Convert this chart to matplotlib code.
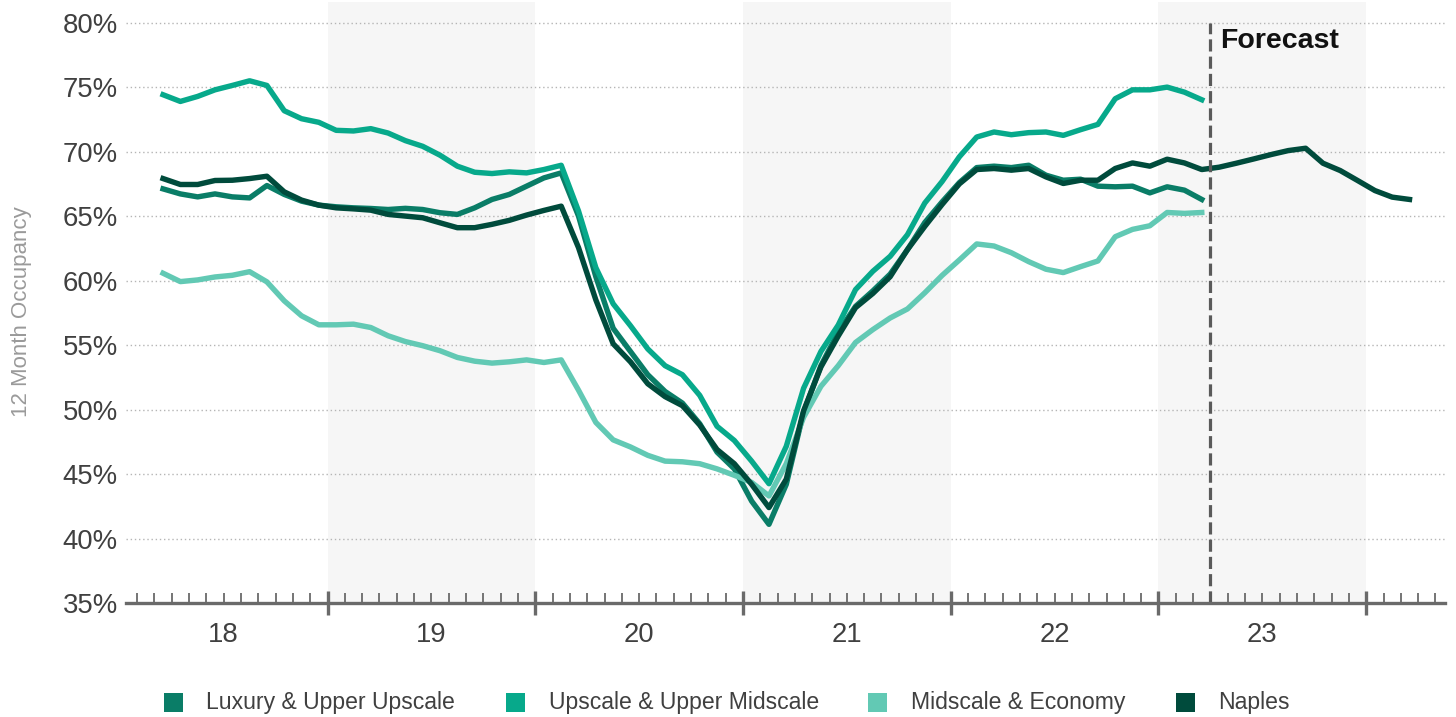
import matplotlib

matplotlib.use("Agg")

import matplotlib.pyplot as plt
from matplotlib.patches import Rectangle

plt.rcParams["font.family"] = ["Liberation Sans", "DejaVu Sans"]

# Meses contados desde enero 2018 (0 = ene-18); cada punto va al centro del mes.
MONTHS_HIST = list(range(2, 63))      # mar-18 .. mar-23
MONTHS_NAPLES = list(range(2, 75))    # mar-18 .. mar-24 (incluye pronostico)

luxury = [
    67.11, 66.72, 66.49, 66.72, 66.49, 66.41, 67.37, 66.68, 66.16, 65.85,
    65.72, 65.64, 65.59, 65.51, 65.60, 65.51, 65.26, 65.13, 65.64, 66.29,
    66.68, 67.32, 67.96, 68.35, 65.00, 60.30, 56.30, 54.50, 52.70, 51.40,
    50.50, 48.90, 46.70, 45.40, 42.90, 41.10, 44.20, 49.80, 53.40, 56.00,
    58.00, 59.20, 60.50, 62.40, 64.50, 66.10, 67.60, 68.76, 68.87, 68.76,
    68.94, 68.17, 67.78, 67.86, 67.32, 67.27, 67.32, 66.80, 67.27, 67.01,
    66.29,
]
upscale = [
    74.41, 73.89, 74.28, 74.79, 75.13, 75.49, 75.13, 73.17, 72.55, 72.27,
    71.65, 71.60, 71.78, 71.44, 70.85, 70.41, 69.72, 68.87, 68.40, 68.30,
    68.43, 68.35, 68.61, 68.94, 65.39, 61.00, 58.20, 56.50, 54.70, 53.40,
    52.70, 51.10, 48.70, 47.60, 46.00, 44.25, 47.15, 51.65, 54.50, 56.55,
    59.30, 60.72, 61.88, 63.56, 66.01, 67.68, 69.60, 71.13, 71.52, 71.31,
    71.47, 71.52, 71.26, 71.70, 72.11, 74.10, 74.79, 74.79, 75.00, 74.61,
    74.02,
]
midscale = [
    60.57, 59.92, 60.05, 60.28, 60.41, 60.69, 59.90, 58.43, 57.27, 56.57,
    56.57, 56.62, 56.36, 55.72, 55.27, 54.95, 54.56, 54.04, 53.75, 53.60,
    53.70, 53.85, 53.65, 53.85, 51.50, 49.00, 47.65, 47.10, 46.45, 46.00,
    45.95, 45.80, 45.40, 44.90, 44.35, 43.30, 45.80, 49.40, 51.80, 53.40,
    55.20, 56.20, 57.10, 57.80, 59.05, 60.40, 61.60, 62.84, 62.68, 62.16,
    61.47, 60.88, 60.62, 61.08, 61.52, 63.40, 63.97, 64.25, 65.28, 65.21,
    65.28,
]
naples = [
    67.91, 67.45, 67.45, 67.76, 67.78, 67.91, 68.09, 66.88, 66.24, 65.85,
    65.64, 65.56, 65.46, 65.13, 65.00, 64.87, 64.48, 64.10, 64.10, 64.36,
    64.67, 65.08, 65.44, 65.77, 62.55, 58.50, 55.10, 53.70, 52.00, 51.00,
    50.30, 48.80, 46.90, 45.80, 44.20, 42.40, 44.60, 49.90, 53.30, 55.70,
    57.90, 59.00, 60.30, 62.40, 64.20, 65.90, 67.50, 68.61, 68.69, 68.56,
    68.69, 68.04, 67.53, 67.78, 67.78, 68.69, 69.12, 68.87, 69.41, 69.12,
    68.61, 68.79, 69.10, 69.43, 69.77, 70.08, 70.26, 69.10, 68.53, 67.76,
    66.98, 66.47, 66.29,
]

SERIES_NAMES = ["Luxury & Upper Upscale", "Upscale & Upper Midscale",
                "Midscale & Economy", "Naples"]
YEAR_LABELS = ["18", "19", "20", "21", "22", "23"]
Y_TICKS = [35, 40, 45, 50, 55, 60, 65, 70, 75, 80]
FORECAST_START = 63  # abr-23

C_LUX = "#0a7d67"
C_UPS = "#07a98b"
C_MID = "#62c9b4"
C_NAP = "#004b3c"
C_TEXT = "#404040"
C_AXIS = "#6a6a6a"
C_BAND = "#f6f6f6"

W, H = 1456, 717


def main():
    fig = plt.figure(figsize=(W / 100, H / 100), dpi=100)
    fig.patch.set_facecolor("white")
    ax = fig.add_axes([126 / W, 1 - 603 / H, (1445 - 126) / W, 601 / H])

    # Bandas grises en los anos alternos.
    for start in (12, 36, 60):
        ax.axvspan(start, start + 12, color=C_BAND, lw=0, zorder=0)

    for y in Y_TICKS[1:]:
        ax.axhline(y, color="#b5b5b5", lw=1.0, ls=(0, (1, 2)), zorder=1)

    x_hist = [m + 0.5 for m in MONTHS_HIST]
    x_nap = [m + 0.5 for m in MONTHS_NAPLES]
    lw = 3.9
    ax.plot(x_hist, luxury, color=C_LUX, lw=lw, solid_joinstyle="round", zorder=3)
    ax.plot(x_hist, upscale, color=C_UPS, lw=lw, solid_joinstyle="round", zorder=3)
    ax.plot(x_hist, midscale, color=C_MID, lw=lw, solid_joinstyle="round", zorder=3)
    ax.plot(x_nap, naples, color=C_NAP, lw=lw, solid_joinstyle="round", zorder=4)

    # Linea de pronostico.
    ax.plot([FORECAST_START, FORECAST_START], [35, 80], color="#5a5a5a", lw=2.3,
            dashes=(3.8, 1.6), zorder=5, clip_on=False)
    ax.text(FORECAST_START + 0.55, 78.6, "Forecast", ha="left", va="center",
            fontsize=20.5, fontweight="bold", color="#111111", zorder=6)

    ax.set_xlim(0.36, 76.55)
    ax.set_ylim(35, 81.6)

    ax.set_yticks(Y_TICKS)
    ax.set_yticklabels([f"{v}%" for v in Y_TICKS])
    ax.tick_params(axis="y", length=0, pad=6, labelsize=19.8, labelcolor=C_TEXT)

    ax.set_xticks([12 * i for i in range(1, 7)])
    ax.set_xticks([m for m in range(1, 77) if m % 12], minor=True)
    ax.tick_params(axis="x", which="major", direction="inout", length=17,
                   width=2.4, color=C_AXIS, labelbottom=False)
    ax.tick_params(axis="x", which="minor", direction="in", length=7.5,
                   width=1.3, color=C_AXIS)
    for i, lab in enumerate(YEAR_LABELS):
        ax.text(12 * i + 6, -0.053, lab, transform=ax.get_xaxis_transform(),
                ha="center", va="center", fontsize=19.8, color=C_TEXT)

    for side in ("top", "right", "left"):
        ax.spines[side].set_visible(False)
    ax.spines["bottom"].set_color(C_AXIS)
    ax.spines["bottom"].set_linewidth(2.4)
    ax.spines["bottom"].set_zorder(6)

    fig.text(22 / W, 1 - 312 / H, "12 Month Occupancy", rotation=90,
             ha="center", va="center", fontsize=16, color="#9a9a9a")

    # Leyenda manual.
    colors = [C_LUX, C_UPS, C_MID, C_NAP]
    sq_x = [164, 506, 868, 1176]
    txt_x = [206, 549, 911, 1218]
    y_c = 702
    sq = 19
    for name, col, sx, tx in zip(SERIES_NAMES, colors, sq_x, txt_x):
        fig.patches.append(Rectangle((sx / W, 1 - (y_c + sq / 2) / H), sq / W, sq / H,
                                     transform=fig.transFigure, facecolor=col,
                                     edgecolor="none"))
        fig.text(tx / W, 1 - y_c / H, name, ha="left", va="center",
                 fontsize=16.6, color=C_TEXT)

    fig.savefig("out.png", dpi=100, facecolor="white")
    plt.close(fig)


if __name__ == "__main__":
    main()
